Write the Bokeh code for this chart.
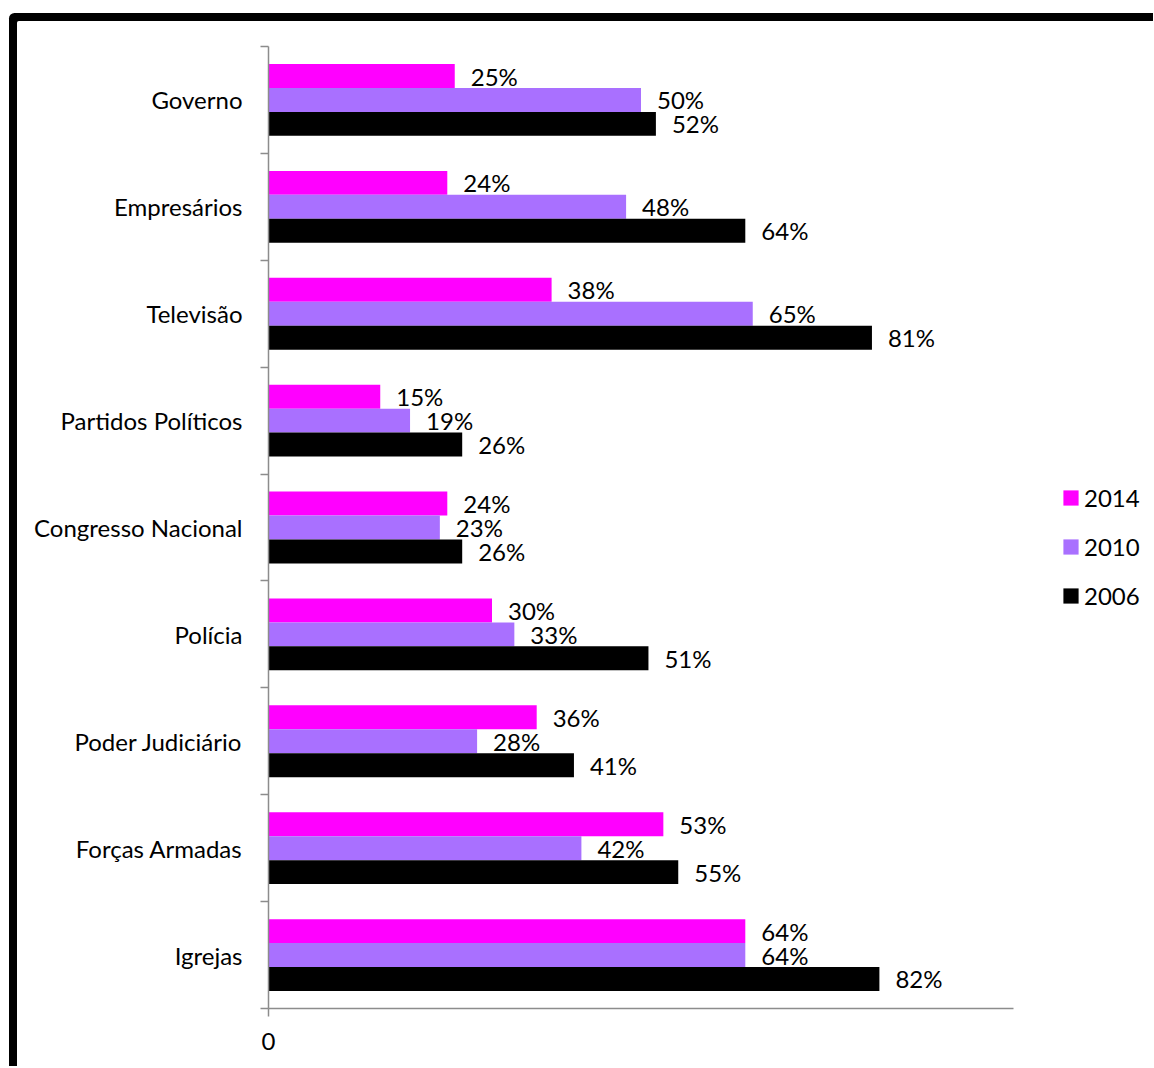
from bokeh.plotting import figure
from bokeh.models import ColumnDataSource, Range1d, FixedTicker, Legend, LegendItem
from bokeh.embed import file_html
from bokeh.resources import INLINE
from bokeh.core.properties import value
from bokeh.transform import dodge

categories = ["Governo", "Empresários", "Televisão", "Partidos Políticos",
              "Congresso Nacional", "Polícia", "Poder Judiciário",
              "Forças Armadas", "Igrejas"]
years = ["2014", "2010", "2006"]
v2014 = [25, 24, 38, 15, 24, 30, 36, 53, 64]
v2010 = [50, 48, 65, 19, 23, 33, 28, 42, 64]
v2006 = [52, 64, 81, 26, 26, 51, 41, 55, 82]
colors = ["#FF00FF", "#A970FF", "#000000"]

FONT_NAME = "Lato"
FONT = value(FONT_NAME)
FSIZE = "24px"

centers = [i + 0.5 for i in range(len(categories))]
bounds = [float(i) for i in range(len(categories) + 1)]

FRAME_W = 885          # frame extends past the 100% axis end to host the legend
AXIS_W = 745           # pixel length of the 0..100 axis
x_end = 100 * FRAME_W / AXIS_W

p = figure(frame_width=FRAME_W, frame_height=962, output_backend="svg",
           toolbar_location=None,
           x_range=Range1d(0, x_end), y_range=Range1d(len(categories), 0),
           min_border_left=251, min_border_right=0, min_border_top=25,
           min_border_bottom=58,
           styles={"box-shadow": "-4px -4px 0 4px black",
                   "border-top-left-radius": "2px", "position": "relative",
                   "left": "17px", "top": "21px"})
p.outline_line_color = None
p.xgrid.visible = False
p.ygrid.visible = False

bar_h = 0.224
offsets = [-bar_h, 0.0, bar_h]
series = [v2014, v2010, v2006]
items = []
for yr, vals, col, off in zip(years, series, colors, offsets):
    src = ColumnDataSource(dict(y=centers, v=vals, lbl=[f"{v}%" for v in vals]))
    r = p.hbar(y=dodge("y", off, range=p.y_range), left=0, right="v", height=bar_h,
               source=src, fill_color=col, line_color=None)
    p.text(x="v", y=dodge("y", off, range=p.y_range), text="lbl", source=src,
           x_offset=16, text_baseline="middle", text_align="left",
           text_font=FONT, text_font_size=FSIZE, text_color="black")
    items.append(LegendItem(label=yr, renderers=[r]))

legend = Legend(items=items, location=(793, 398), padding=0, margin=0,
                border_line_color=None, background_fill_alpha=0,
                glyph_width=19, glyph_height=19, label_standoff=4,
                spacing=20, label_text_font=FONT_NAME, label_text_font_size=FSIZE,
                label_text_color="black", label_height=24)
p.add_layout(legend, "center")

axis_col = "#8C8C8C"
ya = p.yaxis[0]
ya.ticker = FixedTicker(ticks=centers, minor_ticks=bounds)
ya.major_label_overrides = {c: n for c, n in zip(centers, categories)}
ya.major_tick_out = 0
ya.major_tick_in = 0
ya.minor_tick_out = 8
ya.minor_tick_in = 0
ya.minor_tick_line_color = axis_col
ya.axis_line_color = axis_col
ya.axis_line_width = 1.5
ya.minor_tick_line_width = 1.5
ya.major_label_standoff = 18
ya.major_label_text_font = FONT_NAME
ya.major_label_text_font_size = FSIZE
ya.major_label_text_color = "black"

xa = p.xaxis[0]
xa.bounds = (0, 100)
xa.ticker = FixedTicker(ticks=[0], minor_ticks=[])
xa.major_tick_out = 8
xa.major_tick_in = 0
xa.major_tick_line_color = axis_col
xa.major_tick_line_width = 1.5
xa.axis_line_color = axis_col
xa.axis_line_width = 1.5
xa.major_label_standoff = 16
xa.major_label_text_font = FONT_NAME
xa.major_label_text_font_size = FSIZE
xa.major_label_text_color = "black"

open("out.html", "w").write(file_html(p, INLINE))
